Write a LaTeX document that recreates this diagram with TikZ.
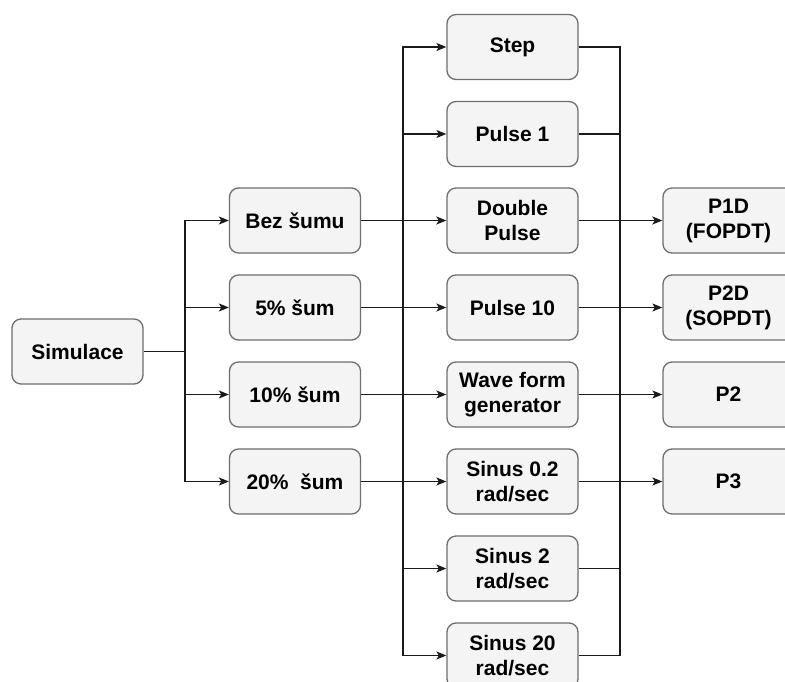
\documentclass[tikz,border=0pt]{standalone}
\usepackage{fontspec}
\setmainfont{Liberation Sans}
\usetikzlibrary{arrows.meta}
\definecolor{boxfill}{HTML}{F4F4F4}
\definecolor{boxline}{HTML}{6E6E6E}
\definecolor{linec}{HTML}{1A1A1A}
\begin{document}
\begin{tikzpicture}[x=1pt,y=-1pt,
  box/.style={draw=boxline, fill=boxfill, line width=1.3pt, rounded corners=9pt,
    minimum width=131pt, minimum height=65pt, inner sep=0pt, align=center,
    font=\fontsize{21}{25}\selectfont\bfseries},
  conn/.style={line width=1.2pt, draw=linec},
  thickconn/.style={line width=1.7pt, draw=linec},
  arr/.style={conn, -{Stealth[length=10pt,width=8pt,inset=2.5pt]}},
  thickarr/.style={thickconn, -{Stealth[length=10pt,width=8pt,inset=2.5pt]}}]
\fill[white] (0,0) rectangle (785,682);
\useasboundingbox (0,0) rectangle (785,682);
\clip (0,0) rectangle (785,682);

% column 1
\node[box] (sim) at (77.5,351.5) {Simulace};
% column 2
\node[box] (bez) at (295,220.5) {Bez šumu};
\node[box] (n5) at (295,307.5) {5\% šum};
\node[box] (n10) at (295,394.5) {10\% šum};
\node[box] (n20) at (295,481.5) {20\%\ \ šum};
% column 3
\node[box] (step) at (512.5,47) {Step};
\node[box] (pulse1) at (512.5,134) {Pulse 1};
\node[box] (dbl) at (512.5,220.5) {Double\\Pulse};
\node[box] (pulse10) at (512.5,307.5) {Pulse 10};
\node[box] (wave) at (512.5,394.5) {Wave form\\generator};
\node[box] (sin02) at (512.5,481.5) {Sinus 0.2\\rad/sec};
\node[box] (sin2) at (512.5,568.5) {Sinus 2\\rad/sec};
\node[box] (sin20) at (512.5,655.5) {Sinus 20\\rad/sec};
% column 4
\node[box] (p1d) at (728.5,220.5) {P1D\\(FOPDT)};
\node[box] (p2d) at (728.5,307.5) {P2D\\(SOPDT)};
\node[box] (p2) at (728.5,394.5) {P2};
\node[box] (p3) at (728.5,481.5) {P3};

% fork from Simulace
\coordinate (fork) at (185,351.5);
\draw[thickconn] (sim.east) -- (fork);
\draw[arr] (fork) |- (bez.west);
\draw[arr] (fork) |- (n5.west);
\draw[arr] (fork) |- (n10.west);
\draw[arr] (fork) |- (n20.west);

% noise -> signals
\draw[thickarr] (bez.east) -- (dbl.west);
\draw[arr] (n5.east) -- (pulse10.west);
\draw[arr] (n10.east) -- (wave.west);
\draw[arr] (n20.east) -- (sin02.west);

% left bus
\coordinate (lbus) at (403,220.5);
\draw[arr] (lbus) |- (step.west);
\draw[arr] (lbus) |- (pulse1.west);
\draw[arr] (lbus) |- (sin2.west);
\draw[arr] (lbus) |- (sin20.west);

% right bus
\coordinate (rbus) at (620,220.5);
\draw[conn] (step.east) -| (rbus);
\draw[conn] (pulse1.east) -| (rbus);
\draw[conn] (sin2.east) -| (rbus);
\draw[conn] (sin20.east) -| (rbus);

% signals -> plants
\draw[thickarr] (dbl.east) -- (p1d.west);
\draw[arr] (pulse10.east) -- (p2d.west);
\draw[arr] (wave.east) -- (p2.west);
\draw[arr] (sin02.east) -- (p3.west);
\end{tikzpicture}
\end{document}
